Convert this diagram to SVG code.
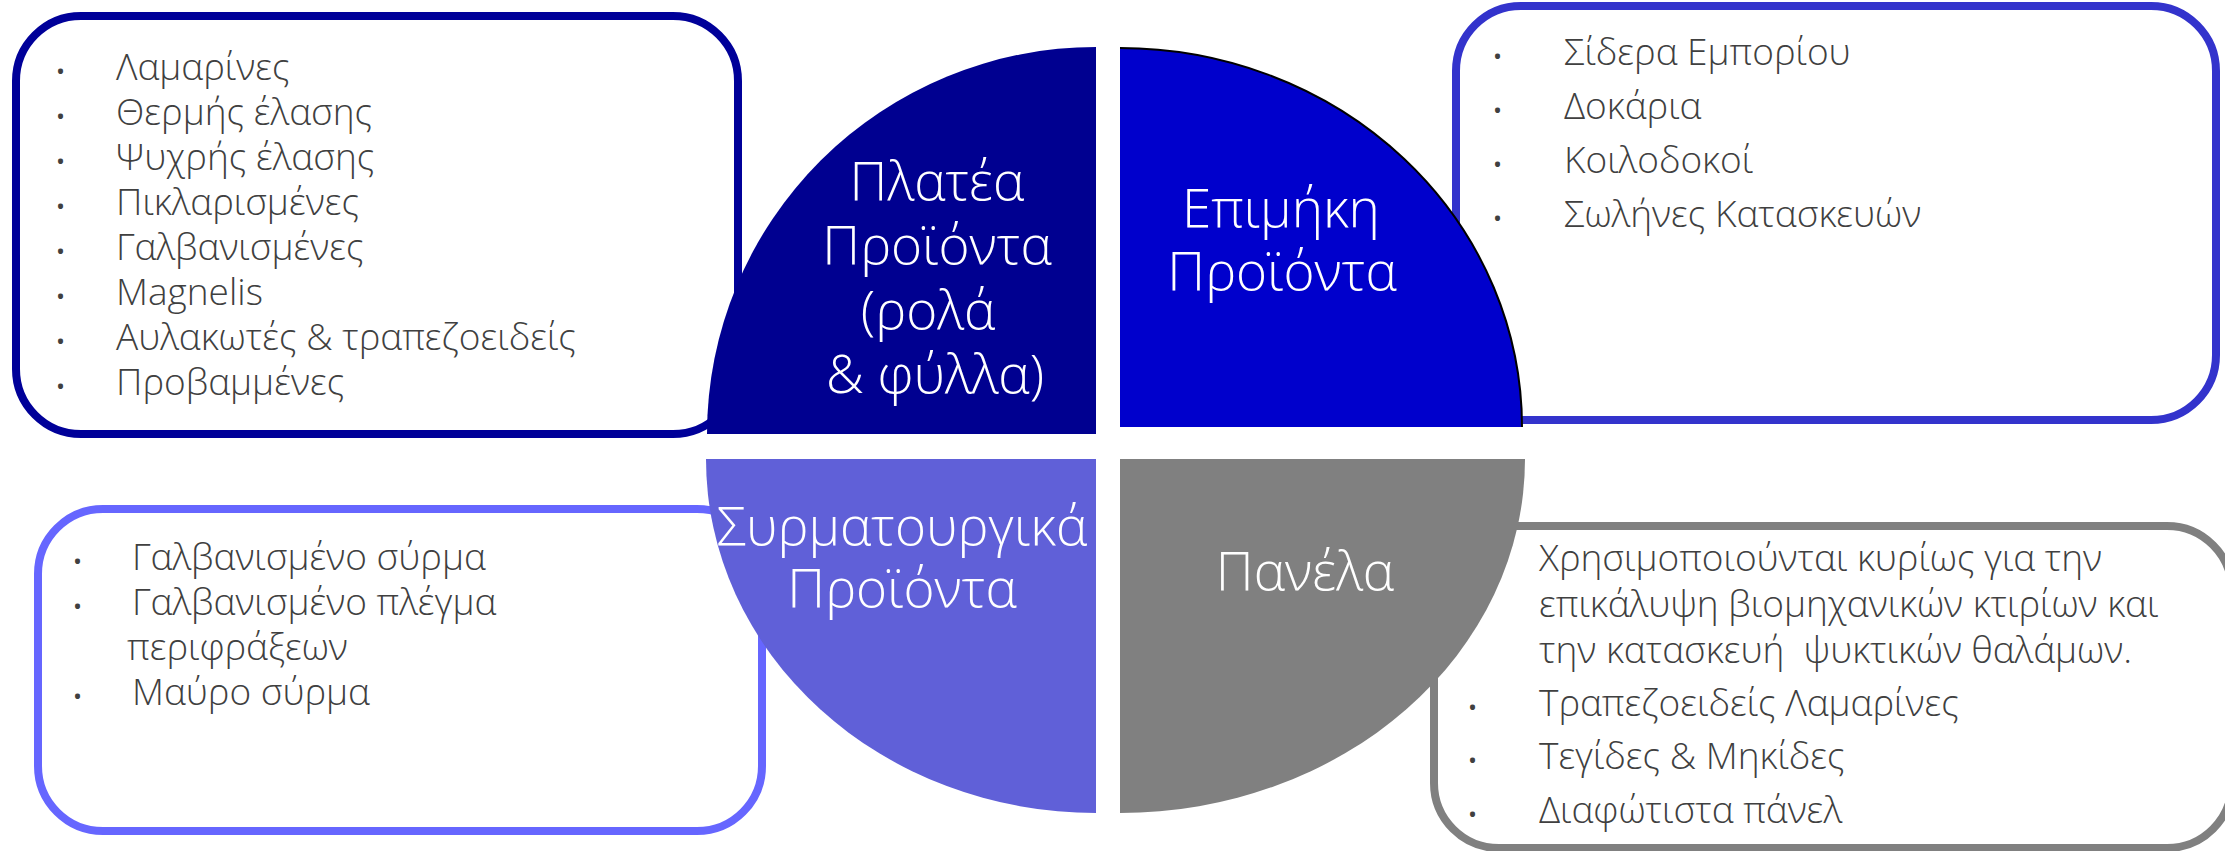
<svg xmlns="http://www.w3.org/2000/svg" width="2225" height="851" viewBox="0 0 2225 851">
<style>
.box{fill:#ffffff;stroke-width:8}
.li{font-family:"Open Sans","Noto Sans","DejaVu Sans",sans-serif;font-weight:300;font-size:37px;fill:#404040}
.bu{font-family:"Open Sans","Noto Sans","DejaVu Sans",sans-serif;font-size:24px;fill:#404040}
.lb{font-family:"Open Sans","Noto Sans","DejaVu Sans",sans-serif;font-weight:300;font-size:53px;fill:#ffffff;text-anchor:middle}
</style>
<rect width="2225" height="851" fill="#ffffff"/>
<g id="box-flat">
<rect class="box" x="16" y="16" width="722" height="418" rx="65" stroke="#000099"/>
<g class="bu"><text x="56" y="80">•</text><text x="56" y="125">•</text><text x="56" y="170">•</text><text x="56" y="215">•</text><text x="56" y="260">•</text><text x="56" y="305">•</text><text x="56" y="350">•</text><text x="56" y="395">•</text></g>
<g class="li">
<text x="116" y="80">Λαμαρίνες</text>
<text x="116" y="125">Θερμής έλασης</text>
<text x="116" y="170">Ψυχρής έλασης</text>
<text x="116" y="215">Πικλαρισμένες</text>
<text x="116" y="260">Γαλβανισμένες</text>
<text x="116" y="305">Magnelis</text>
<text x="116" y="350">Αυλακωτές &amp; τραπεζοειδείς</text>
<text x="116" y="395">Προβαμμένες</text>
</g>
</g>
<g id="box-long">
<rect class="box" x="1456" y="6" width="760" height="414" rx="65" stroke="#3333CC"/>
<g class="bu"><text x="1493" y="65">•</text><text x="1493" y="119">•</text><text x="1493" y="173">•</text><text x="1493" y="227">•</text></g>
<g class="li">
<text x="1564" y="65">Σίδερα Εμπορίου</text>
<text x="1564" y="119">Δοκάρια</text>
<text x="1564" y="173">Κοιλοδοκοί</text>
<text x="1564" y="227">Σωλήνες Κατασκευών</text>
</g>
</g>
<g id="box-wire">
<rect class="box" x="38" y="509" width="724" height="322" rx="65" stroke="#6666FF"/>
<g class="bu"><text x="73" y="570">•</text><text x="73" y="615">•</text><text x="73" y="705">•</text></g>
<g class="li">
<text x="132" y="570">Γαλβανισμένο σύρμα</text>
<text x="132" y="615">Γαλβανισμένο πλέγμα</text>
<text x="127" y="660">περιφράξεων</text>
<text x="132" y="705">Μαύρο σύρμα</text>
</g>
</g>
<g id="box-panel">
<rect class="box" x="1434" y="526" width="798" height="322" rx="65" stroke="#808080"/>
<g class="li">
<text x="1539" y="571">Χρησιμοποιούνται κυρίως για την</text>
<text x="1539" y="617">επικάλυψη βιομηχανικών κτιρίων και</text>
<text x="1539" y="663" xml:space="preserve">την κατασκευή  ψυκτικών θαλάμων.</text>
<text x="1539" y="716">Τραπεζοειδείς Λαμαρίνες</text>
<text x="1539" y="769">Τεγίδες &amp; Μηκίδες</text>
<text x="1539" y="823">Διαφώτιστα πάνελ</text>
</g>
<g class="bu"><text x="1468" y="716">•</text><text x="1468" y="769">•</text><text x="1468" y="823">•</text></g>
</g>
<g id="q-flat">
<path d="M1096,434 L707,434 A389,387 0 0 1 1096,47 Z" fill="#000090"/>
<g class="lb">
<text x="937" y="200">Πλατέα</text>
<text x="937" y="264">Προϊόντα</text>
<text x="928" y="329">(ρολά</text>
<text x="935" y="393">&amp; φύλλα)</text>
</g>
</g>
<g id="q-long">
<path d="M1120,427 L1120,48 A402,379 0 0 1 1522,427 Z" fill="#0000CC"/>
<path d="M1120,48 A402,379 0 0 1 1522,427" fill="none" stroke="#000000" stroke-width="2"/>
<g class="lb">
<text x="1281" y="227">Επιμήκη</text>
<text x="1282" y="290">Προϊόντα</text>
</g>
</g>
<g id="q-wire">
<path d="M1096,459 L1096,813 A390,354 0 0 1 706,459 Z" fill="#6060D8"/>
<g class="lb">
<text x="902" y="545">Συρματουργικά</text>
<text x="902" y="607">Προϊόντα</text>
</g>
</g>
<g id="q-panel">
<path d="M1120,459 L1525,459 A405,354 0 0 1 1120,813 Z" fill="#808080"/>
<g class="lb">
<text x="1305" y="590">Πανέλα</text>
</g>
</g>
<g id="connectors"/>
</svg>
